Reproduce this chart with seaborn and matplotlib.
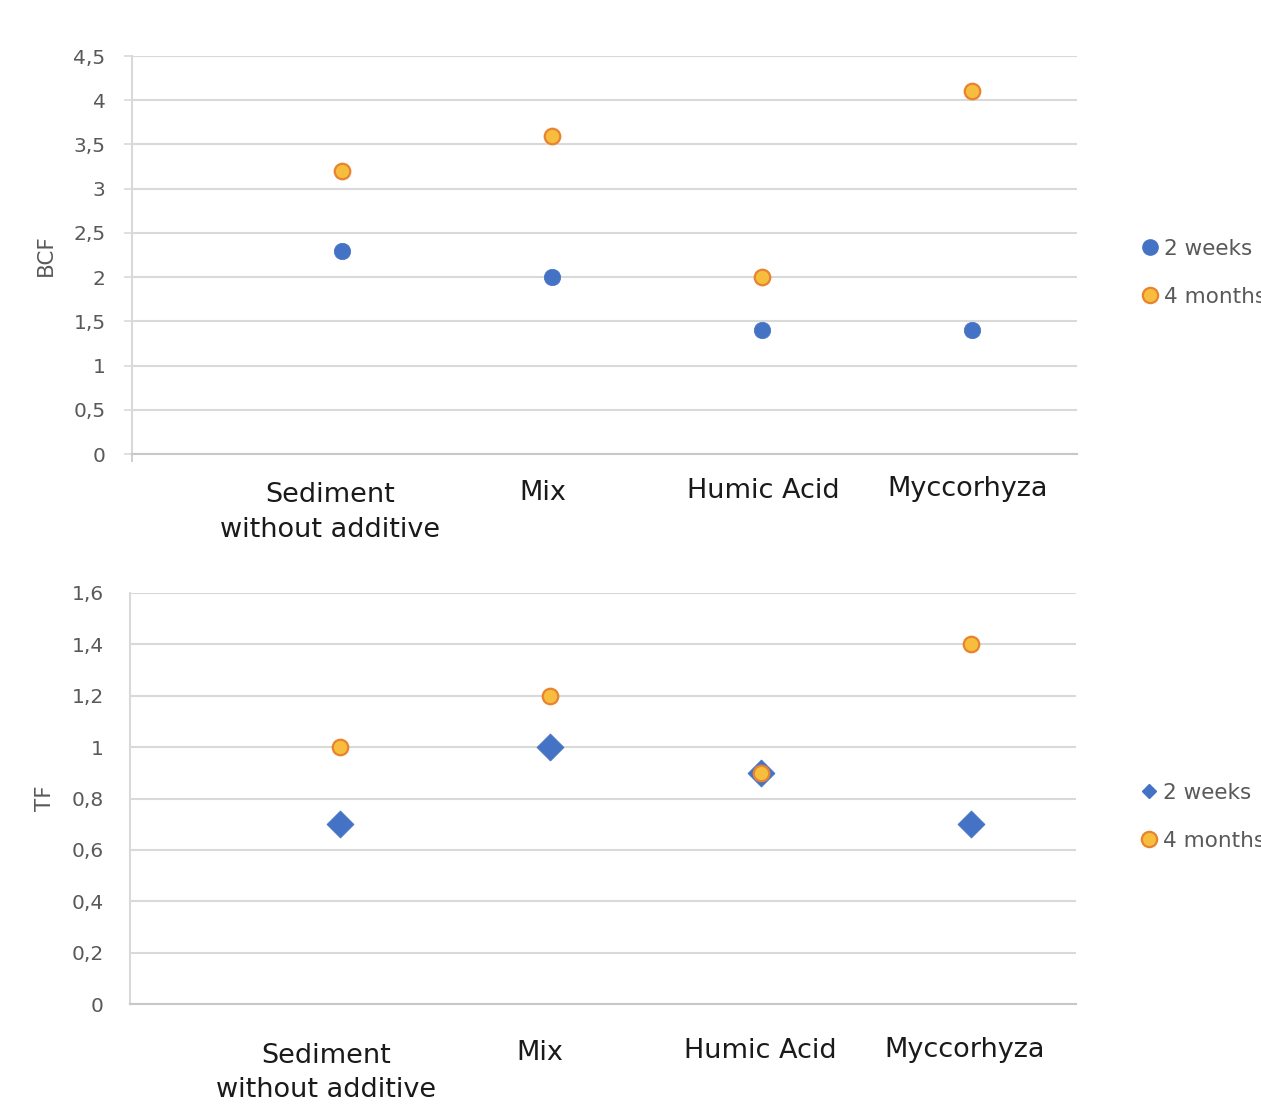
import matplotlib
matplotlib.use("Agg")
import matplotlib.pyplot as plt
from matplotlib.ticker import FuncFormatter, MultipleLocator
from matplotlib.lines import Line2D
import seaborn as sns
import pandas as pd

categories = ["Sediment\nwithout additive", "Mix", "Humic Acid", "Myccorhyza"]
positions = [1, 2, 3, 4]
series_names = ["2 weeks", "4 months"]

bcf_2weeks = [2.3, 2.0, 1.4, 1.4]
bcf_4months = [3.2, 3.6, 2.0, 4.1]
tf_2weeks = [0.7, 1.0, 0.9, 0.7]
tf_4months = [1.0, 1.2, 0.9, 1.4]

sns.set_theme(style="white")
plt.rcParams['font.family'] = ['DejaVu Sans']

BLUE = "#4472C4"
GOLD = "#F6BE3C"
ORANGE = "#E8832F"
GRID = "#D9D9D9"
TXT = "#595959"

fig = plt.figure(figsize=(12.61, 11.06), dpi=100)
ax1 = fig.add_axes([132/1261, 1-454/1106, (1077-132)/1261, (454-56)/1106])
ax2 = fig.add_axes([130/1261, 1-1004/1106, (1076-130)/1261, (1004-593)/1106])

comma = FuncFormatter(lambda v, p: ('{:g}'.format(round(v, 2))).replace('.', ','))

def draw(ax, w2, m4, ymax, ystep, marker2, s2, ylabel, ticklen, label_dx, label_dy, ylabelpad):
    df2 = pd.DataFrame({"x": positions, "y": w2})
    df4 = pd.DataFrame({"x": positions, "y": m4})
    sns.scatterplot(data=df2, x="x", y="y", ax=ax, color=BLUE, marker=marker2,
                    s=s2, edgecolor=BLUE, linewidth=0.5, zorder=3)
    sns.scatterplot(data=df4, x="x", y="y", ax=ax, color=GOLD, marker="o",
                    s=125, edgecolor=ORANGE, linewidth=1.6, zorder=4)
    ax.set_xlim(0, 4.5)
    ax.set_ylim(0, ymax)
    ax.yaxis.set_major_locator(MultipleLocator(ystep))
    ax.yaxis.set_major_formatter(comma)
    ax.grid(axis='y', color=GRID, linewidth=1.5)
    ax.set_axisbelow(True)
    for sp in ["top", "right"]:
        ax.spines[sp].set_visible(False)
    ax.spines["left"].set_color(GRID)
    ax.spines["left"].set_linewidth(1.5)
    ax.spines["bottom"].set_color("#C8C8C8")
    ax.spines["bottom"].set_linewidth(1.5)
    ax.set_xticks([])
    ax.tick_params(axis='y', left=ticklen > 0, length=ticklen, width=1.2, color=GRID,
                   labelsize=14.5, labelcolor=TXT, pad=19 - ticklen)
    ax.set_xlabel("")
    ax.set_ylabel(ylabel, fontsize=15.5, color=TXT, labelpad=ylabelpad)
    for i, (x, c) in enumerate(zip(positions, categories)):
        ax.text(x + label_dx[i], -label_dy[i], c, transform=ax.get_xaxis_transform(),
                ha='center', va='top', fontsize=19.5, color="#1A1A1A",
                multialignment='center', linespacing=1.42)

draw(ax1, bcf_2weeks, bcf_4months, 4.5, 0.5, "o", 140, "BCF", 6,
     [-0.057, -0.045, 0.007, -0.019], [0.071, 0.066, 0.061, 0.056], 13)
draw(ax2, tf_2weeks, tf_4months, 1.6, 0.2, "D", 190, "TF", 0,
     [-0.067, -0.05, 0.0, -0.029], [0.095, 0.088, 0.083, 0.081], 12)

# Small tick at the left bottom of the top chart
ax1.tick_params(axis='x', bottom=True, length=6, color="#C8C8C8", width=1.2)
ax1.set_xticks([0])
ax1.set_xticklabels([""])

h1 = [Line2D([], [], linestyle='none', marker='o', markersize=11, color=BLUE),
      Line2D([], [], linestyle='none', marker='o', markersize=11, markerfacecolor=GOLD,
             markeredgecolor=ORANGE, markeredgewidth=1.6)]
h2 = [Line2D([], [], linestyle='none', marker='D', markersize=7, color=BLUE),
      Line2D([], [], linestyle='none', marker='o', markersize=11, markerfacecolor=GOLD,
             markeredgecolor=ORANGE, markeredgewidth=1.6)]
for ax, h in ((ax1, h1), (ax2, h2)):
    ax.legend(h, series_names, loc='center left', bbox_to_anchor=(1.068, 0.455),
              frameon=False, fontsize=15.5, labelcolor=TXT, handlelength=0.85,
              handletextpad=0.2, labelspacing=1.3, borderpad=0, borderaxespad=0)

fig.savefig("out.png", dpi=100)
